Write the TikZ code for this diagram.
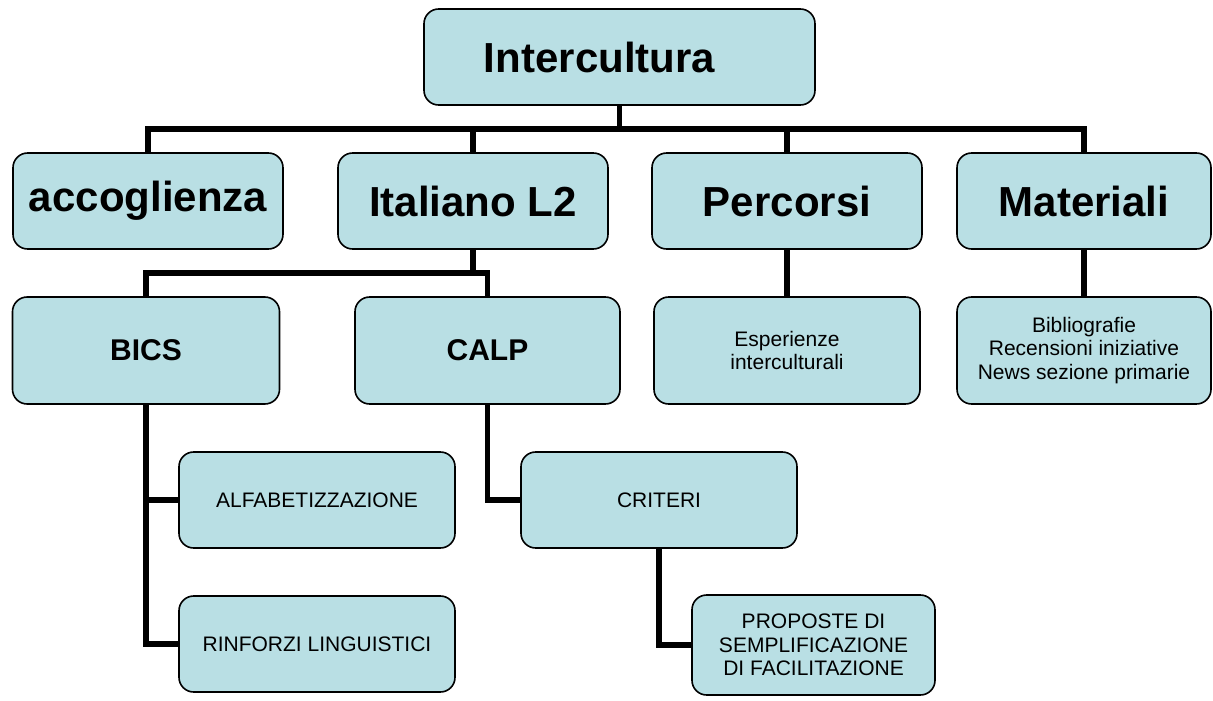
\documentclass[tikz,border=0pt]{standalone}
\usepackage{fontspec}
\setmainfont{Liberation Sans}
\usepackage{tikz}
\definecolor{boxblue}{RGB}{185,223,228}

\begin{document}
\begin{tikzpicture}[x=0.75pt, y=-0.75pt,
    box/.style={draw=black, line width=1.2pt, fill=boxblue, rounded corners=11pt, align=center, inner sep=0pt},
    topbox/.style={box, font=\fontsize{31.5}{36}\selectfont\bfseries, minimum height=72pt},
    headbox/.style={box, font=\fontsize{22.5}{26}\selectfont\bfseries, minimum height=80.25pt},
    leafbox/.style={box, font=\fontsize{15.75}{17.5}\selectfont},
    link/.style={line width=4.3pt}]
  \useasboundingbox (0,0) rectangle (1213,700);

  % boxes
  \node[topbox, minimum width=293.25pt] (inter) at (619.5,57) {Intercultura\hspace*{30pt}};
  \node[topbox, minimum width=202.5pt] (accog) at (148,201) {accoglienza};
  \node[topbox, minimum width=202.5pt] (ital) at (473,201) {Italiano L2};
  \node[topbox, minimum width=202.5pt] (perc) at (787,201) {Percorsi};
  \node[topbox, minimum width=190.5pt] (mat) at (1084,201) {Materiali};

  \node[headbox, minimum width=200.25pt] (bics) at (146,350.5) {BICS};
  \node[headbox, minimum width=198.75pt] (calp) at (487.5,350.5) {CALP};
  \node[leafbox, minimum width=199.5pt, minimum height=80.25pt] (esper) at (787,350.5) {Esperienze\\interculturali};
  \node[leafbox, minimum width=190.5pt, minimum height=80.25pt] (biblio) at (1084,350.5) {Bibliografie\\Recensioni iniziative\\News sezione primarie};

  \node[leafbox, minimum width=207pt, minimum height=72pt] (alfa) at (317,500) {ALFABETIZZAZIONE};
  \node[leafbox, minimum width=207pt, minimum height=72pt] (rinf) at (317,644) {RINFORZI LINGUISTICI};
  \node[leafbox, minimum width=207pt, minimum height=72pt] (crit) at (659,500) {CRITERI};
  \node[leafbox, minimum width=182.25pt, minimum height=75pt] (prop) at (813.5,645) {PROPOSTE DI\\SEMPLIFICAZIONE\\DI FACILITAZIONE};

  % connectors
  \coordinate (hub) at (619.5,129);
  \coordinate (ihub) at (473,273);
  \draw[link] (inter.south) -- (hub);
  \draw[link] (accog.north) |- (hub) -| (mat.north);
  \draw[link] (ital.north) -- (ital.north |- hub);
  \draw[link] (perc.north) -- (perc.north |- hub);
  \draw[link] (ital.south) -- (ihub);
  \draw[link] (bics.north) |- (ihub) -| (calp.north);
  \draw[link] (perc.south) -- (esper.north);
  \draw[link] (mat.south) -- (biblio.north);
  \draw[link] (bics.south) |- (rinf.west);
  \draw[link] (bics.south |- alfa.west) -- (alfa.west);
  \draw[link] (calp.south) |- (crit.west);
  \draw[link] (crit.south) |- (prop.west);
\end{tikzpicture}
\end{document}
